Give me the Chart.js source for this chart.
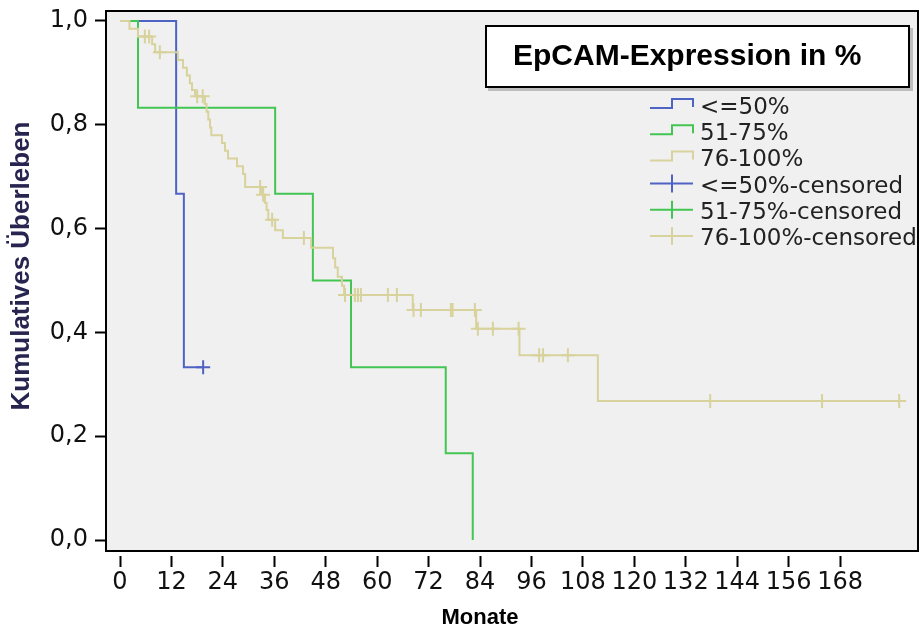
<!DOCTYPE html>
<html>
<head>
<meta charset="utf-8">
<title>EpCAM-Expression Kaplan-Meier</title>
<script src="https://cdn.jsdelivr.net/npm/chart.js@4.4.0/dist/chart.umd.min.js"></script>
<style>
  html, body { margin: 0; padding: 0; background: #fff; }
  #wrap { width: 922px; height: 629px; }
</style>
</head>
<body>
<div id="wrap"><canvas id="km" width="922" height="629"></canvas></div>
<script>
// Werte (Monate / kumulatives Ueberleben)
const legendTitle = 'EpCAM-Expression in %';
const groupLabels = ['<=50%', '51-75%', '76-100%'];
const groupColors = ['#4f63c4', '#43c553', '#d8d29c'];

const lowTimes = [0, 13.1, 14.9, 19.4];
const lowSurv = [1, 0.667, 0.333, 0.333];
const lowCensTimes = [19.4];
const lowCensSurv = [0.333];

const midTimes = [0, 4.2, 36.2, 45.0, 53.9, 76.0, 82.3];
const midSurv = [1, 0.833, 0.667, 0.5, 0.333, 0.167, 0];
const midCensTimes = [];
const midCensSurv = [];

const highTimes = [0, 2.2, 4.2, 7.5, 8.2, 13.5, 14.7, 15.6, 16.3, 16.8, 17.5, 19.8, 20.2, 20.6, 21.0, 21.3,
  23.8, 24.5, 25.2, 27.3, 28.7, 29.2, 33.1, 33.8, 34.2, 34.6, 36.2, 38.0, 44.6, 49.7, 50.2, 50.8, 51.8, 52.3,
  68.3, 83.1, 93.2, 111.5, 181.8];
const highSurv = [1, 0.985, 0.97, 0.955, 0.94, 0.925, 0.91, 0.895, 0.88, 0.867, 0.855, 0.84, 0.825, 0.81, 0.795, 0.78,
  0.765, 0.75, 0.735, 0.72, 0.705, 0.68, 0.665, 0.65, 0.636, 0.617, 0.597, 0.582, 0.563, 0.543, 0.525, 0.507, 0.49, 0.472,
  0.443, 0.407, 0.356, 0.268, 0.268];
const highCensTimes = [5.8, 6.8, 9.3, 18.0, 19.3, 32.7, 33.4, 35.5, 42.9, 52.5, 54.8, 55.5, 56.2, 62.5, 64.6,
  68.5, 70.2, 77.2, 77.6, 82.8, 83.5, 87.0, 93.0, 97.8, 98.7, 104.5, 137.7, 163.8, 181.8];
const highCensSurv = [0.97, 0.97, 0.94, 0.855, 0.855, 0.68, 0.665, 0.617, 0.582, 0.472, 0.472, 0.472, 0.472, 0.472, 0.472,
  0.443, 0.443, 0.443, 0.443, 0.443, 0.407, 0.407, 0.407, 0.356, 0.356, 0.356, 0.268, 0.268, 0.268];

const xTicks = [0, 12, 24, 36, 48, 60, 72, 84, 96, 108, 120, 132, 144, 156, 168];
const yTicks = [0, 0.2, 0.4, 0.6, 0.8, 1.0];
const xTitle = 'Monate';
const yTitle = 'Kumulatives Überleben';

const tickFont = { family: '"DejaVu Sans", sans-serif', size: 24 };
const frameGap = 4;

function toPoints(times, surv) {
  return times.map((t, i) => ({ x: t, y: surv[i] }));
}

function stepDataset(label, times, surv, color, order) {
  return {
    type: 'line',
    label,
    data: toPoints(times, surv),
    stepped: true,
    borderColor: color,
    borderWidth: 2,
    pointRadius: 0,
    pointHitRadius: 0,
    fill: false,
    tension: 0,
    order,
  };
}

function censDataset(label, times, surv, color) {
  return {
    type: 'scatter',
    label: label + '-censored',
    data: toPoints(times, surv),
    showLine: false,
    pointStyle: 'cross',
    pointRadius: 7,
    pointBorderWidth: 2,
    borderColor: color,
    backgroundColor: color,
    order: -1,
  };
}

const plotFrame = {
  id: 'plotFrame',
  beforeDatasetsDraw(chart) {
    const { ctx, chartArea: a } = chart;
    ctx.save();
    ctx.fillStyle = '#f0f0f0';
    ctx.fillRect(a.left, a.top, a.right - a.left, a.bottom - frameGap - a.top);
    ctx.restore();
  },
  afterDatasetsDraw(chart) {
    const { ctx, chartArea: a } = chart;
    ctx.save();
    ctx.strokeStyle = '#000';
    ctx.lineWidth = 2;
    ctx.strokeRect(a.left + 1, a.top + 1, a.right - a.left - 2, a.bottom - frameGap - a.top - 2);
    ctx.restore();
  },
};

const axisTitles = {
  id: 'axisTitles',
  afterDraw(chart) {
    const { ctx, scales } = chart;
    ctx.save();
    ctx.font = 'bold 22px "Liberation Sans", Arial, sans-serif';
    ctx.fillStyle = '#000';
    ctx.textAlign = 'center';
    ctx.textBaseline = 'alphabetic';
    ctx.fillText(xTitle, scales.x.getPixelForValue(84), 624);

    ctx.font = 'bold 26px "Liberation Sans", Arial, sans-serif';
    ctx.fillStyle = '#27244f';
    ctx.translate(22, 266);
    ctx.rotate(-Math.PI / 2);
    ctx.textBaseline = 'middle';
    ctx.fillText(yTitle, 0, 0);
    ctx.restore();
  },
};

const kmLegend = {
  id: 'kmLegend',
  afterDraw(chart) {
    const ctx = chart.ctx;
    ctx.save();
    // Titelkasten
    ctx.fillStyle = '#bdbdbd';
    ctx.fillRect(488, 28, 425, 63);
    ctx.fillStyle = '#fff';
    ctx.fillRect(485, 25, 425, 63);
    ctx.strokeStyle = '#000';
    ctx.lineWidth = 2;
    ctx.strokeRect(486, 26, 423, 61);
    ctx.fillStyle = '#000';
    ctx.font = 'bold 30px "Liberation Sans", Arial, sans-serif';
    ctx.textAlign = 'left';
    ctx.textBaseline = 'alphabetic';
    ctx.fillText(legendTitle, 513, 65);

    // Eintraege
    ctx.font = '23px "DejaVu Sans", sans-serif';
    ctx.lineWidth = 2;
    const items = [
      ...groupLabels.map((label, i) => ({ label, color: groupColors[i], censored: false })),
      ...groupLabels.map((label, i) => ({ label: label + '-censored', color: groupColors[i], censored: true })),
    ];
    items.forEach((item, i) => {
      const cy = 106 + i * 26.2;
      ctx.strokeStyle = item.color;
      ctx.beginPath();
      if (item.censored) {
        ctx.moveTo(650, cy - 1);
        ctx.lineTo(693, cy - 1);
        ctx.moveTo(672, cy - 10);
        ctx.lineTo(672, cy + 8);
      } else {
        ctx.moveTo(650, cy + 2);
        ctx.lineTo(672, cy + 2);
        ctx.lineTo(672, cy - 7);
        ctx.lineTo(693, cy - 7);
        ctx.lineTo(693, cy + 1);
      }
      ctx.stroke();
      ctx.fillStyle = '#222';
      ctx.fillText(item.label, 700, cy + 8);
    });
    ctx.restore();
  },
};

new Chart(document.getElementById('km'), {
  data: {
    datasets: [
      stepDataset(groupLabels[0], lowTimes, lowSurv, groupColors[0], 2),
      stepDataset(groupLabels[1], midTimes, midSurv, groupColors[1], 1),
      stepDataset(groupLabels[2], highTimes, highSurv, groupColors[2], 0),
      censDataset(groupLabels[0], lowCensTimes, lowCensSurv, groupColors[0]),
      censDataset(groupLabels[1], midCensTimes, midCensSurv, groupColors[1]),
      censDataset(groupLabels[2], highCensTimes, highCensSurv, groupColors[2]),
    ],
  },
  options: {
    responsive: false,
    animation: false,
    devicePixelRatio: 1,
    layout: { autoPadding: false, padding: { left: 0, right: 3, top: 10, bottom: 0 } },
    plugins: {
      legend: { display: false },
      tooltip: { enabled: false },
    },
    scales: {
      x: {
        type: 'linear',
        min: -3.5,
        max: -3.5 + 814 / 4.286,
        afterBuildTicks: (scale) => { scale.ticks = xTicks.map((v) => ({ value: v })); },
        afterFit: (scale) => {
          scale.height = 73;
          scale.paddingLeft = 0;
          scale.paddingRight = 0;
        },
        ticks: {
          autoSkip: false,
          maxRotation: 0,
          padding: 1,
          color: '#111',
          font: tickFont,
          callback: (v) => String(v),
        },
        grid: { drawOnChartArea: false, drawTicks: true, tickLength: 11, tickWidth: 2, tickColor: '#000' },
        border: { display: false },
      },
      y: {
        type: 'linear',
        min: -16 / 519,
        max: 1 + 11 / 519,
        afterBuildTicks: (scale) => { scale.ticks = yTicks.map((v) => ({ value: v })); },
        afterFit: (scale) => {
          scale.width = 105;
          scale.paddingTop = 0;
          scale.paddingBottom = 0;
        },
        ticks: {
          padding: 7,
          color: '#111',
          font: tickFont,
          callback: (v) => v.toFixed(1).replace('.', ','),
        },
        grid: { drawOnChartArea: false, drawTicks: true, tickLength: 10, tickWidth: 2, tickColor: '#000' },
        border: { display: false },
      },
    },
  },
  plugins: [plotFrame, axisTitles, kmLegend],
});
</script>
</body>
</html>
